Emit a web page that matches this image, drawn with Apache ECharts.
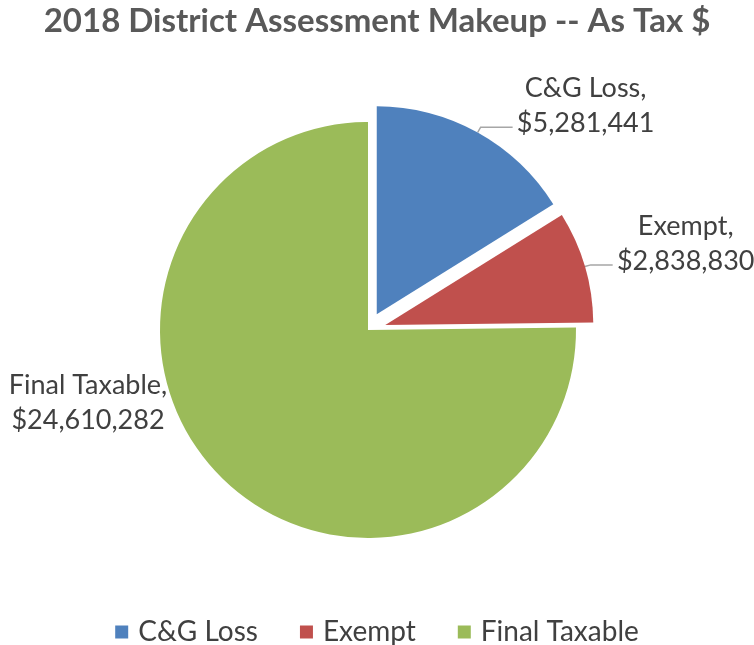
<!DOCTYPE html>
<html>
<head>
<meta charset="utf-8">
<script src="https://cdn.jsdelivr.net/npm/echarts@6/dist/echarts.min.js"></script>
<style>
  html, body { margin: 0; padding: 0; background: #fff; }
  #chart { width: 754px; height: 645px; }
</style>
</head>
<body>
<div id="chart"></div>
<script>
// Assessment makeup, tax dollars
const categories = ['C&G Loss', 'Exempt', 'Final Taxable'];
const values = [5281441, 2838830, 24610282];
const colors = ['#4F81BD', '#C0504D', '#9BBB59'];
const exploded = [true, true, false];

// callout leader lengths per slice [radial, horizontal]
const leader = [[6, 32], [6, 22], [0, 0]];

const fmt = v => '$' + v.toLocaleString('en-US');
const FONT = 'Lato';

const chart = echarts.init(document.getElementById('chart'));
chart.setOption({
  animation: false,
  title: {
    text: '2018 District Assessment Makeup -- As Tax $',
    left: 'center',
    top: 0,
    textStyle: { fontFamily: FONT, fontWeight: 'bold', fontSize: 33, color: '#595959' }
  },
  legend: {
    bottom: -6,
    left: 'center',
    icon: 'rect',
    itemWidth: 13,
    itemHeight: 13,
    itemGap: 42,
    textStyle: { fontFamily: FONT, fontSize: 28, color: '#404040', padding: [0, 0, 0, 5] },
    data: categories,
    selectedMode: false
  },
  series: [{
    type: 'pie',
    center: [368, 330],
    radius: 208,
    startAngle: 90,
    clockwise: true,
    selectedMode: 'multiple',
    selectedOffset: 18,
    emphasis: { disabled: true },
    label: {
      show: true,
      position: 'outside',
      alignTo: 'none',
      distanceToLabelLine: 5,
      fontFamily: FONT,
      fontSize: 27,
      lineHeight: 35,
      color: '#404040',
      padding: [0, 0, 43, 0],
      formatter: p => '{t|' + p.name + ',}\n{t|' + fmt(p.value) + '}',
      rich: { t: { width: 136, align: 'center', fontFamily: FONT, fontSize: 27, lineHeight: 35, color: '#404040' } }
    },
    labelLine: { show: true, lineStyle: { color: '#A6A6A6', width: 1.5 } },
    labelLayout: p => (p.dataIndex === 2 ? { x: 88, y: 403, align: 'center', verticalAlign: 'middle' } : {}),
    data: categories.map((c, i) => ({
      name: c,
      value: values[i],
      selected: exploded[i],
      itemStyle: { color: colors[i] },
      labelLine: { show: i !== 2, length: leader[i][0], length2: leader[i][1] },
      label: i === 2 ? { padding: 0, rich: { t: { width: 160 } } } : {}
    }))
  }]
});
</script>
</body>
</html>
